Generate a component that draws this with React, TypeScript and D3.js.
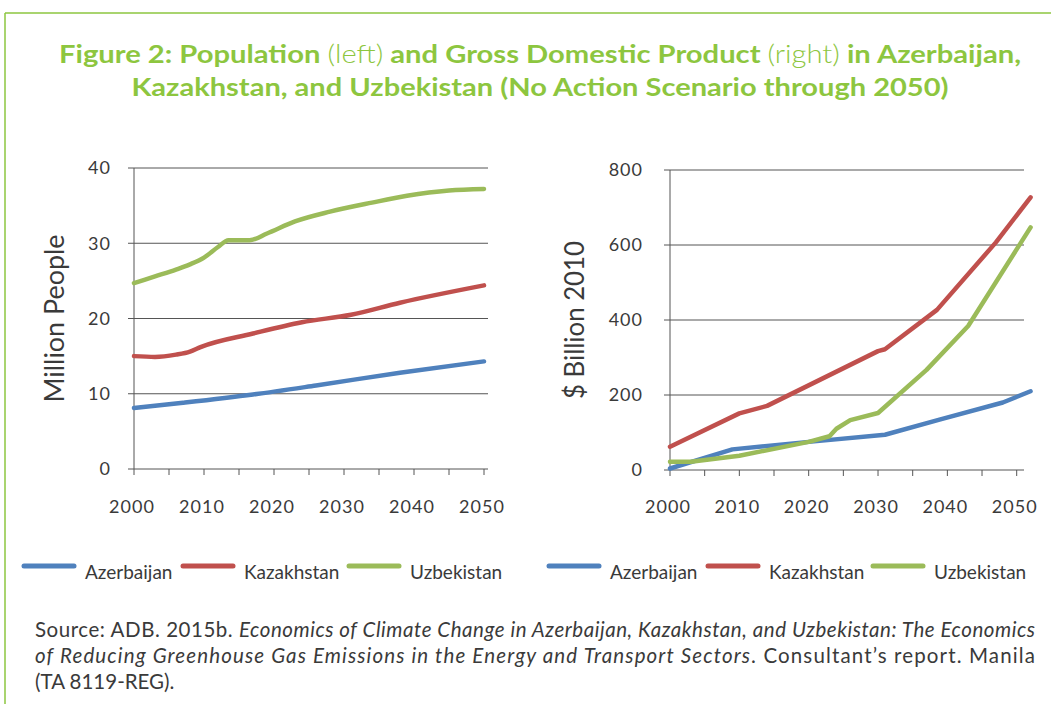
import React from "react";
import * as d3 from "d3";

type Pt = { year: number; value: number };

const seriesNames = ["Azerbaijan", "Kazakhstan", "Uzbekistan"];
const seriesColors = ["#4F81BD", "#C0504D", "#9BBB59"];

const popAzerbaijan: Pt[] = [
  { year: 2000, value: 8.1 }, { year: 2007, value: 8.8 }, { year: 2017, value: 9.9 },
  { year: 2026, value: 11.1 }, { year: 2038, value: 12.8 }, { year: 2050, value: 14.3 },
];
const popKazakhstan: Pt[] = [
  { year: 2000, value: 15.0 }, { year: 2003, value: 14.9 }, { year: 2006, value: 15.2 },
  { year: 2008, value: 15.6 }, { year: 2009.5, value: 16.2 }, { year: 2017, value: 18.0 },
  { year: 2024, value: 19.5 }, { year: 2031, value: 20.5 }, { year: 2038, value: 22.1 },
  { year: 2050, value: 24.4 },
];
const popUzbekistan: Pt[] = [
  { year: 2000, value: 24.7 }, { year: 2003, value: 25.6 }, { year: 2006, value: 26.5 },
  { year: 2008, value: 27.2 }, { year: 2010, value: 28.1 }, { year: 2012, value: 29.5 },
  { year: 2013.5, value: 30.4 }, { year: 2016.5, value: 30.4 }, { year: 2019, value: 31.3 },
  { year: 2023, value: 32.9 }, { year: 2028, value: 34.2 }, { year: 2034, value: 35.4 },
  { year: 2039, value: 36.3 }, { year: 2045, value: 37.0 }, { year: 2050, value: 37.2 },
];

const gdpAzerbaijan: Pt[] = [
  { year: 2000, value: 4 }, { year: 2009, value: 55 }, { year: 2020, value: 75 },
  { year: 2031, value: 94 }, { year: 2039, value: 135 }, { year: 2048, value: 180 },
  { year: 2052, value: 210 },
];
const gdpKazakhstan: Pt[] = [
  { year: 2000, value: 62 }, { year: 2010, value: 151 }, { year: 2014, value: 171 },
  { year: 2030, value: 317 }, { year: 2031, value: 322 }, { year: 2038.5, value: 427 },
  { year: 2047, value: 607 }, { year: 2052, value: 727 },
];
const gdpUzbekistan: Pt[] = [
  { year: 2000, value: 22 }, { year: 2003, value: 22 }, { year: 2010, value: 38 },
  { year: 2020, value: 75 }, { year: 2023, value: 90 }, { year: 2024, value: 110 },
  { year: 2026, value: 133 }, { year: 2030, value: 152 }, { year: 2037, value: 267 },
  { year: 2043, value: 384 }, { year: 2052, value: 647 },
];

const xTickYears = [2000, 2005, 2010, 2015, 2020, 2025, 2030, 2035, 2040, 2045, 2050];
const xLabelYears = [2000, 2010, 2020, 2030, 2040, 2050];
const popTicks = [0, 10, 20, 30, 40];
const gdpTicks = [0, 200, 400, 600, 800];

const FONT = "Lato, 'Open Sans', sans-serif";
const TEXT = "#3a3a3a";
const GRID = "#555";
const GREEN = "#8DC63F";

type PanelProps = {
  series: Pt[][];
  yDomain: [number, number];
  yTicks: number[];
  xRange: [number, number];
  yRange: [number, number];
  gridRight: number;
  yTitle: string;
  yTitleX: number;
  yTitleLen: number;
  labelRight: number;
  legendX: number[];
  curve: d3.CurveFactory;
};

function Panel(p: PanelProps) {
  const x = d3.scaleLinear().domain([2000, 2050]).range(p.xRange);
  const y = d3.scaleLinear().domain(p.yDomain).range(p.yRange);
  const line = d3
    .line<Pt>()
    .x((d) => x(d.year))
    .y((d) => y(d.value))
    .curve(p.curve);
  const x0 = p.xRange[0];
  const yMid = (p.yRange[0] + p.yRange[1]) / 2;
  return (
    <g>
      {p.yTicks.map((t) => (
        <g key={t}>
          <line x1={x0 - 6} x2={p.gridRight} y1={y(t)} y2={y(t)} stroke={GRID} strokeWidth={1} />
          <text x={p.labelRight} y={y(t)} dy="0.35em" textAnchor="end" fontSize={18} fill={TEXT} fontFamily={FONT} letterSpacing={1}>
            {t}
          </text>
        </g>
      ))}
      <line x1={x0} x2={x0} y1={p.yRange[1]} y2={p.yRange[0]} stroke={GRID} strokeWidth={1} />
      {xTickYears.map((t) => (
        <line key={t} x1={x(t)} x2={x(t)} y1={p.yRange[0]} y2={p.yRange[0] + 6} stroke={GRID} strokeWidth={1} />
      ))}
      {xLabelYears.map((t) => (
        <text key={t} x={x(t) - 2} y={513} textAnchor="middle" fontSize={18} fill={TEXT} fontFamily={FONT} letterSpacing={1}>
          {t}
        </text>
      ))}
      <text
        transform={`translate(${p.yTitleX},${yMid}) rotate(-90)`}
        textAnchor="middle"
        dy="0.35em"
        fontSize={27}
        fill={TEXT}
        fontFamily={FONT}
        textLength={p.yTitleLen}
        lengthAdjust="spacingAndGlyphs"
      >
        {p.yTitle}
      </text>
      {p.series.map((s, i) => (
        <path key={i} d={line(s) || ""} fill="none" stroke={seriesColors[i]} strokeWidth={4.5} strokeLinecap="round" strokeLinejoin="round" />
      ))}
      {seriesNames.map((n, i) => (
        <g key={n}>
          <line x1={p.legendX[i]} x2={p.legendX[i] + 50} y1={566} y2={566} stroke={seriesColors[i]} strokeWidth={5} strokeLinecap="round" />
          <text x={p.legendX[i] + 61} y={579} fontSize={19} fill={TEXT} fontFamily={FONT}>
            {n}
          </text>
        </g>
      ))}
    </g>
  );
}

export default function App() {
  return (
    <svg width={1051} height={704} style={{ position: "absolute", left: 0, top: 0, background: "#fff" }}>
      <rect x={0} y={0} width={1051} height={704} fill="#fff" />
      <line x1={5} x2={1051} y1={13} y2={13} stroke={GREEN} strokeWidth={1.5} />
      <line x1={5} x2={5} y1={13} y2={704} stroke={GREEN} strokeWidth={1.5} />
      <text x={540} y={63} textAnchor="middle" fontSize={25} fill={GREEN} fontFamily={FONT} fontWeight={700} textLength={962} lengthAdjust="spacingAndGlyphs">
        <tspan>Figure 2: Population </tspan>
        <tspan fontWeight={300}>(left)</tspan>
        <tspan> and Gross Domestic Product </tspan>
        <tspan fontWeight={300}>(right)</tspan>
        <tspan> in Azerbaijan,</tspan>
      </text>
      <text x={540} y={96} textAnchor="middle" fontSize={25} fill={GREEN} fontFamily={FONT} fontWeight={700} textLength={817} lengthAdjust="spacingAndGlyphs">
        Kazakhstan, and Uzbekistan (No Action Scenario through 2050)
      </text>

      <Panel
        series={[popAzerbaijan, popKazakhstan, popUzbekistan]}
        yDomain={[0, 40]}
        yTicks={popTicks}
        xRange={[134, 484]}
        yRange={[469, 168]}
        gridRight={488}
        yTitle="Million People"
        yTitleX={55}
        yTitleLen={168}
        labelRight={111}
        legendX={[24, 183, 349]}
        curve={d3.curveMonotoneX}
      />
      <Panel
        series={[gdpAzerbaijan, gdpKazakhstan, gdpUzbekistan]}
        yDomain={[0, 800]}
        yTicks={gdpTicks}
        xRange={[670, 1016.7]}
        yRange={[470, 170]}
        gridRight={1024}
        yTitle="$ Billion 2010"
        yTitleX={575}
        yTitleLen={158}
        labelRight={643}
        legendX={[549, 708, 873]}
        curve={d3.curveLinear}
      />

      <text y={637} fontSize={20.5} fill={TEXT} fontFamily={FONT} x={35} textLength={1000} lengthAdjust="spacing">
        <tspan>Source: ADB. 2015b. </tspan>
        <tspan fontStyle="italic">Economics of Climate Change in Azerbaijan, Kazakhstan, and Uzbekistan: The Economics</tspan>
      </text>
      <text y={663} fontSize={20.5} fill={TEXT} fontFamily={FONT} x={35} textLength={1000} lengthAdjust="spacing">
        <tspan fontStyle="italic">of Reducing Greenhouse Gas Emissions in the Energy and Transport Sectors</tspan>
        <tspan>. Consultant’s report. Manila</tspan>
      </text>
      <text y={689} fontSize={20.5} fill={TEXT} fontFamily={FONT} x={35}>
        (TA 8119-REG).
      </text>
    </svg>
  );
}
